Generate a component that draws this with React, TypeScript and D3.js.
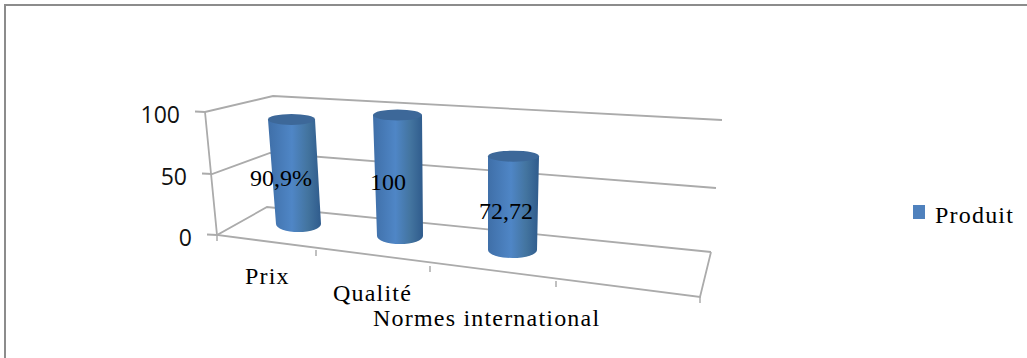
import React from "react";
import * as d3 from "d3";

// Chart data
const categories = ["Prix", "Qualité", "Normes international"];
const values = [90.9, 100, 72.72];
const valueLabels = ["90,9%", "100", "72,72"];
const valueTicks = [0, 50, 100];
const seriesName = "Produit";

// Box edges of the 3D plot, each as a scale from axis value to screen position
const frontLeftX = d3.scaleLinear().domain([0, 50, 100]).range([217, 212, 205]);
const frontLeftY = d3.scaleLinear().domain([0, 50, 100]).range([235, 174, 112]);
const backLeftX = d3.scaleLinear().domain([0, 50, 100]).range([267, 270, 273]);
const backLeftY = d3.scaleLinear().domain([0, 50, 100]).range([207, 153, 96]);
const backRightX = d3.scaleLinear().domain([0, 50, 100]).range([711, 716, 722]);
const backRightY = d3.scaleLinear().domain([0, 50, 100]).range([252, 188, 120]);

// Position along the front floor edge, one step per category slot
const slots = [0, 1, 2, 3, 4];
const floorX = d3.scaleLinear().domain(slots).range([217, 316, 430, 556, 700]);
const floorY = d3.scaleLinear().domain(slots).range([235, 250, 266, 281, 297]);

// Cylinder placement along the floor's mid depth, by category index
const idx = [0, 1, 2];
const baseX = d3.scaleLinear().domain(idx).range([298.5, 400, 512.5]);
const baseY = d3.scaleLinear().domain(idx).range([224, 236, 250]);
const pxPerUnit = d3.scaleLinear().domain(idx).range([1.15, 1.21, 1.29]);
const lean = d3.scaleLinear().domain(idx).range([-7, -2.5, 1]);
const baseR = d3.scaleLinear().domain(idx).range([22.5, 23, 24.5]);
const topR = d3.scaleLinear().domain(idx).range([23.5, 24.5, 25.5]);

const GRID = "#ababab";
const SANS = "'Open Sans', 'Noto Sans', sans-serif";
const SERIF = "'Liberation Serif', serif";

const catLabelPos = [
  { x: 245, y: 284 },
  { x: 333, y: 301 },
  { x: 373, y: 326 },
];
const valueLabelPos = [
  { x: 250, y: 186 },
  { x: 370, y: 190 },
  { x: 479, y: 219 },
];

const line = d3.line<[number, number]>();

function cylinderPath(i: number, v: number) {
  const bx = baseX(i);
  const by = baseY(i);
  const tx = bx + lean(i);
  const ty = by - v * pxPerUnit(i);
  const br = baseR(i);
  const tr = topR(i);
  const ryB = 8;
  const ryT = 5.5;
  return {
    body: `M${tx - tr},${ty} L${bx - br},${by} A${br},${ryB} 0 0 0 ${bx + br},${by} L${tx + tr},${ty} Z`,
    top: { cx: tx, cy: ty, rx: tr, ry: ryT },
  };
}

export default function App() {
  return (
    <svg
      width={1027}
      height={358}
      style={{ position: "absolute", left: 0, top: 0, background: "#fff" }}
    >
      <defs>
        <linearGradient id="cyl" x1="0" x2="1" y1="0" y2="0">
          <stop offset="0" stopColor="#3f6fa8" />
          <stop offset="0.45" stopColor="#4f86c6" />
          <stop offset="0.75" stopColor="#43749f" />
          <stop offset="1" stopColor="#2f5b8c" />
        </linearGradient>
      </defs>

      {/* Outer frame */}
      <path d="M5,358 V5 H1027" fill="none" stroke="#8c8c8c" strokeWidth={2} />

      {/* Wall gridlines with their value tick marks */}
      {valueTicks.map((t) => (
        <path
          key={t}
          fill="none"
          stroke={GRID}
          strokeWidth={1.8}
          d={
            line([
              [frontLeftX(t) - 10, frontLeftY(t) - 0.5],
              [frontLeftX(t), frontLeftY(t)],
              [backLeftX(t), backLeftY(t)],
              [backRightX(t), backRightY(t)],
            ]) ?? ""
          }
        />
      ))}

      {/* Value axis and floor */}
      <path
        fill="none"
        stroke={GRID}
        strokeWidth={1.8}
        d={
          line([
            [frontLeftX(100), frontLeftY(100)],
            [frontLeftX(0), frontLeftY(0)],
            [floorX(4), floorY(4)],
            [backRightX(0), backRightY(0)],
          ]) ?? ""
        }
      />
      {slots.map((s) => (
        <line
          key={s}
          x1={floorX(s)}
          x2={floorX(s)}
          y1={floorY(s)}
          y2={floorY(s) + 6}
          stroke={GRID}
          strokeWidth={1.5}
        />
      ))}

      {/* Cylinders */}
      {values.map((v, i) => {
        const c = cylinderPath(i, v);
        return (
          <g key={categories[i]}>
            <path d={c.body} fill="url(#cyl)" />
            <ellipse {...c.top} fill="#3d6899" />
          </g>
        );
      })}

      {/* Value axis labels */}
      {valueTicks.map((t) => (
        <text
          key={t}
          x={frontLeftX(t) - 25}
          y={frontLeftY(t) + 11}
          textAnchor="end"
          fontFamily={SANS}
          fontSize={23}
          fill="#111"
        >
          {t}
        </text>
      ))}

      {/* Category labels */}
      {categories.map((c, i) => (
        <text
          key={c}
          x={catLabelPos[i].x}
          y={catLabelPos[i].y}
          fontFamily={SERIF}
          fontSize={24}
          letterSpacing={1.2}
          fill="#000"
        >
          {c}
        </text>
      ))}

      {/* Data labels */}
      {valueLabels.map((l, i) => (
        <text
          key={l}
          x={valueLabelPos[i].x}
          y={valueLabelPos[i].y}
          fontFamily={SERIF}
          fontSize={24}
          fill="#000"
        >
          {l}
        </text>
      ))}

      {/* Legend */}
      <rect x={913} y={205} width={12} height={14} fill="#4f81bd" />
      <text x={935} y={223} fontFamily={SERIF} fontSize={24} letterSpacing={1.2} fill="#000">
        {seriesName}
      </text>
    </svg>
  );
}
